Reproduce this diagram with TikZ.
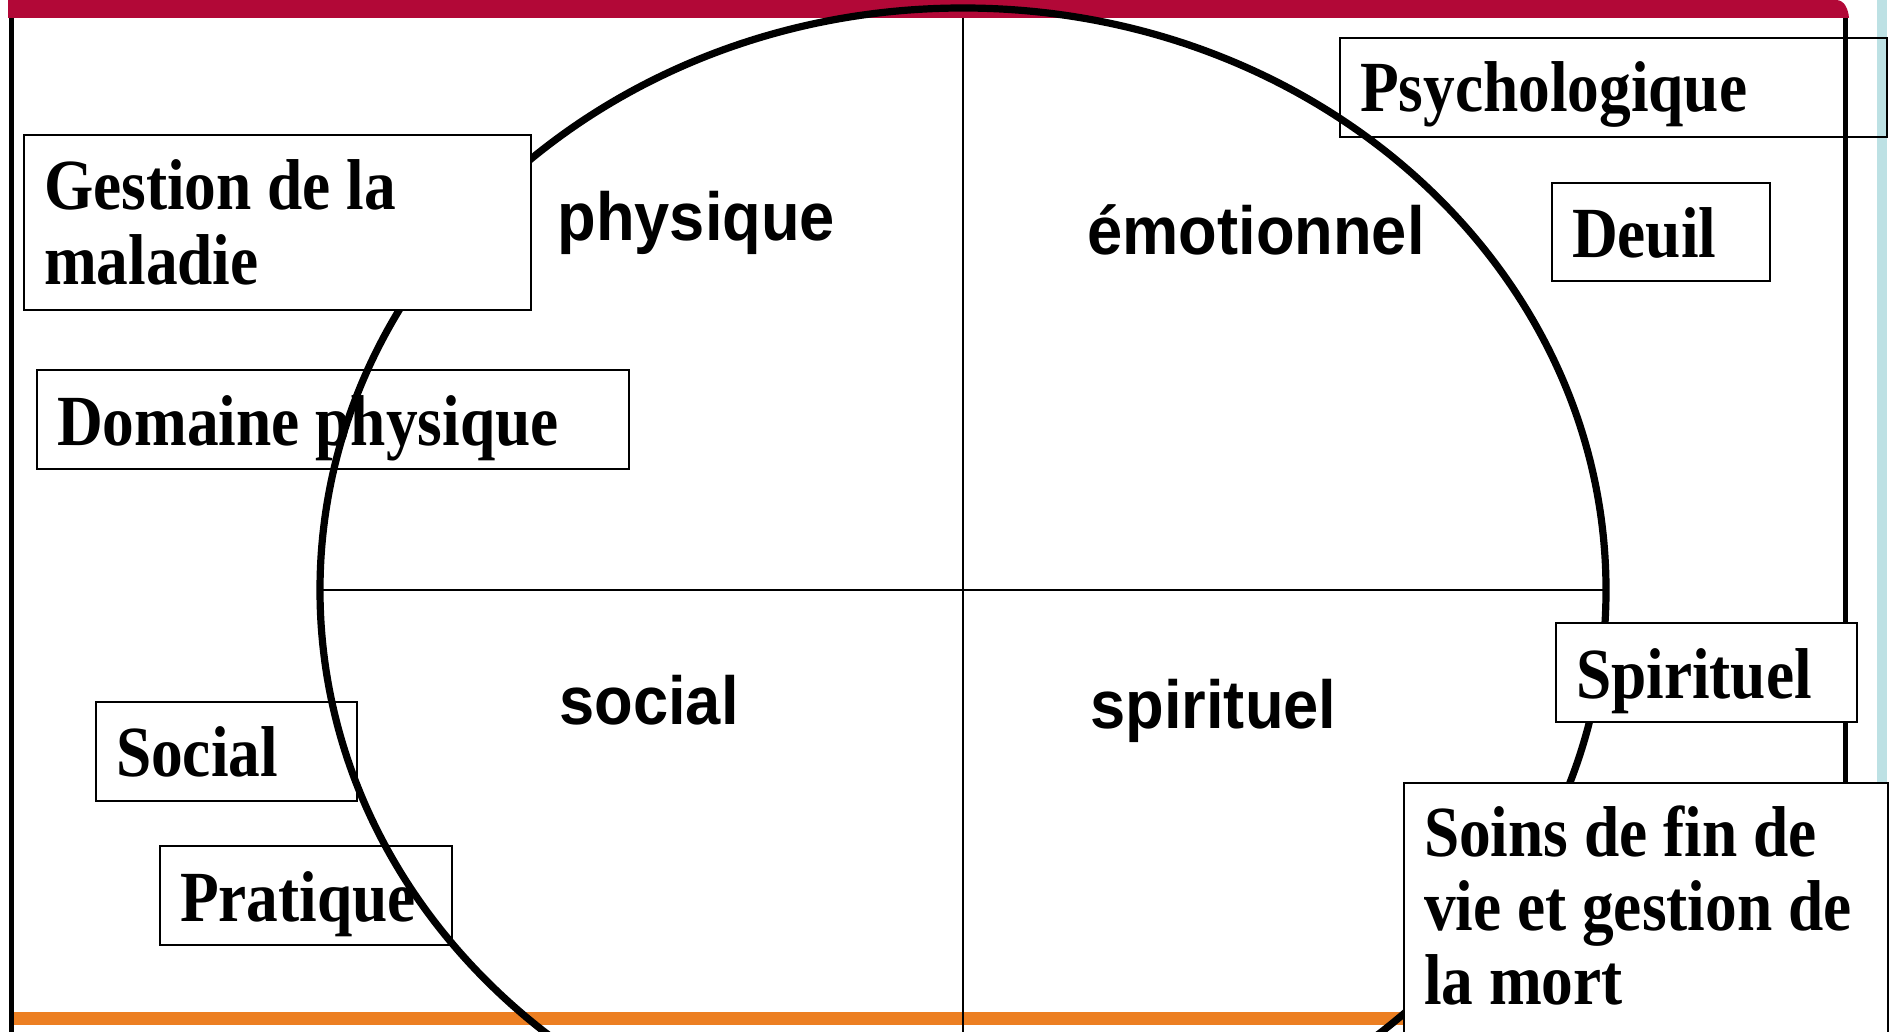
\documentclass[tikz,border=0pt]{standalone}
\usepackage{fontspec}
\newfontfamily\serifbox[FakeStretch=0.88]{Liberation Serif}
\newfontfamily\sanslab[FakeStretch=0.93]{Liberation Sans}
\newcommand\boxfontset{\serifbox\bfseries\fontsize{36}{37}\selectfont}
\newcommand\natspace{\spaceskip=0pt\relax\xspaceskip=0pt\relax}
\definecolor{barred}{HTML}{B20837}
\definecolor{barorange}{HTML}{EC7F22}
\definecolor{stripblue}{HTML}{BDE1E4}
\tikzset{
  labelbox/.style={draw, line width=1pt, inner xsep=10pt, inner ysep=0pt,
    anchor=north west, align=left, font=\boxfontset,
    execute at begin node=\natspace},
  whitebox/.style={labelbox, fill=white},
  quadlabel/.style={anchor=base west, inner sep=0pt,
    font=\sanslab\bfseries\fontsize{34}{40}\selectfont},
  frameline/.style={line width=2.5pt},
  crossline/.style={line width=0.8pt},
  circleline/.style={line width=3.6pt}
}
\begin{document}
\begin{tikzpicture}[x=0.5pt,y=-0.5pt]
\clip (0,0) rectangle (1893,1032);
\fill[white] (0,0) rectangle (1893,1032);
% bars and strip
\fill[stripblue] (1877,0) rectangle (1887,1032);
\fill[barred] (8,0) -- (1836,0) to[out=0,in=95] (1849,18) -- (8,18) -- cycle;
\fill[barorange] (11,1012) rectangle (1500,1025);
% frame lines
\coordinate (lt) at (11,18);
\coordinate (lb) at (11,1032);
\coordinate (rt) at (1845,18);
\coordinate (rb) at (1845,1032);
\draw[frameline] (lt) -- (lb);
\draw[frameline] (rt) -- (rb);
% centre and cross
\coordinate (c) at (963,590);
\coordinate (vt) at (963,18);
\coordinate (vb) at (963,1032);
\coordinate (hl) at (320,590);
\coordinate (hr) at (1606,590);
\draw[crossline] (vt) -- (vb);
\draw[crossline] (hl) -- (hr);
% quadrant labels
\node[quadlabel] (qphys) at (557,241) {physique};
\node[quadlabel] (qemo) at (1087,255) {émotionnel};
\node[quadlabel] (qsoc) at (559,724) {social};
\node[quadlabel] (qspi) at (1090,728) {spirituel};
% open boxes
\node[labelbox, text width=276pt, text height=37.5pt, text depth=12pt] (dom) at (36,369) {Domaine physique};
\node[labelbox, text width=110.5pt, text height=37pt, text depth=12.5pt] (soc) at (95,701) {Social};
\node[labelbox, text width=126pt, text height=37.5pt, text depth=12pt] (pra) at (159,845) {Pratique};
\node[labelbox, text width=253.5pt, text height=37pt, text depth=12.5pt] (psy) at (1339,37) {Psychologique};
\node[labelbox, text width=89pt, text height=37pt, text depth=12pt] (deu) at (1551,182) {Deuil};
% ellipse
\draw[circleline] (c) ellipse [x radius=643, y radius=582];
% filled boxes
\node[whitebox, text width=233.5pt, text height=37.5pt, text depth=50pt] (ges) at (23,134) {Gestion de la\\maladie};
\node[whitebox, text width=130.5pt, text height=37.5pt, text depth=12pt] (spi) at (1555,622) {Spirituel};
\node[whitebox, text width=222pt, text height=36.5pt, text depth=97.5pt] (soi) at (1403,782) {Soins de fin de\\vie et gestion de\\la mort};
\end{tikzpicture}
\end{document}
